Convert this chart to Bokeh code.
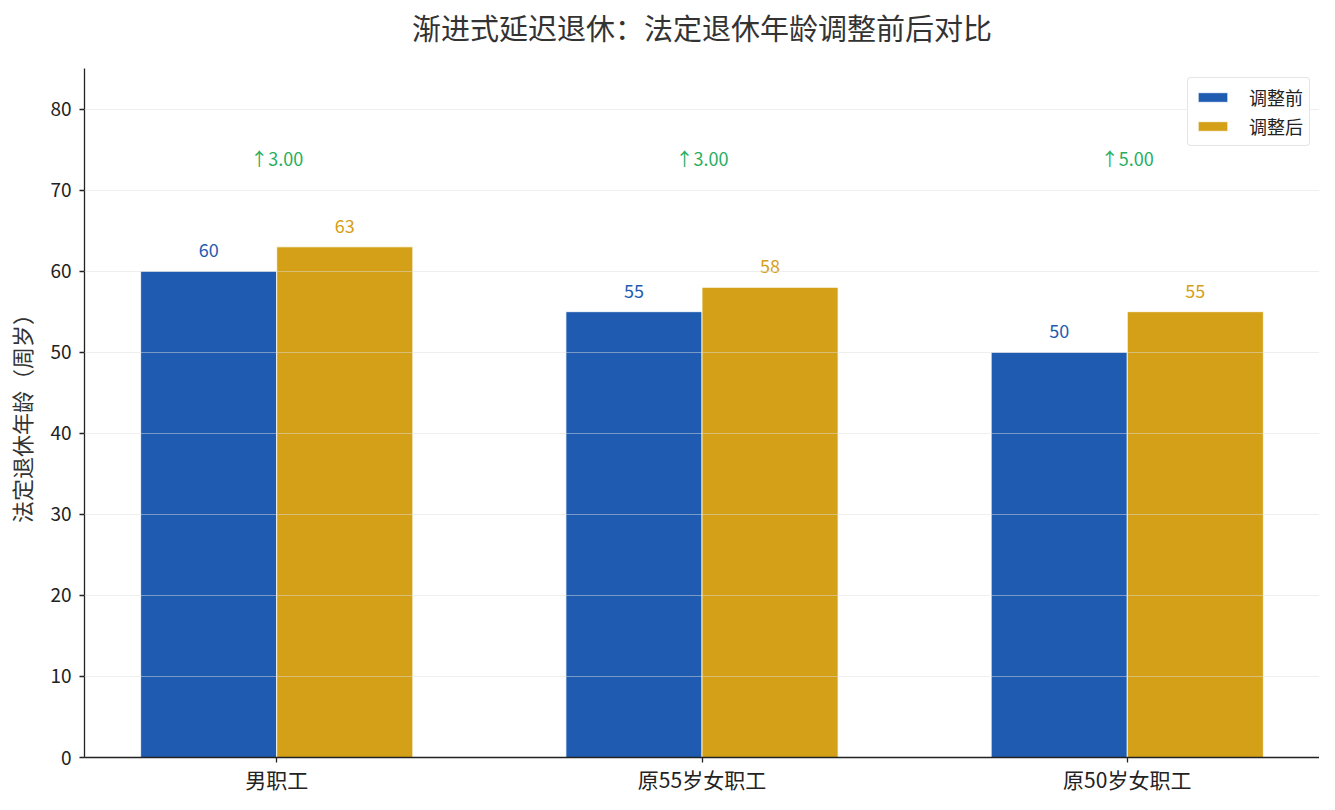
from bokeh.plotting import figure
from bokeh.models import Range1d, FixedTicker, ColumnDataSource, Legend, LegendItem, Label
from bokeh.core.properties import value
from bokeh.embed import file_html
from bokeh.resources import INLINE

title_text = "渐进式延迟退休：法定退休年龄调整前后对比"
y_label = "法定退休年龄（周岁）"
categories = ["男职工", "原55岁女职工", "原50岁女职工"]
before = [60, 55, 50]
after = [63, 58, 55]
diff_labels = ["↑3.00", "↑3.00", "↑5.00"]
diff_y = [74, 74, 74]
series_names = ["调整前", "调整后"]
y_ticks = [0, 10, 20, 30, 40, 50, 60, 70, 80]

BLUE = "#1f5cb1"
GOLD = "#d4a017"
GREEN = "#27ae60"
FONT = "Noto Sans CJK SC"

FW, FH = 1235, 689

idx = list(range(len(categories)))
bw = 0.32
src_b = ColumnDataSource(dict(x=[i - bw / 2 for i in idx], top=before, lab=[str(v) for v in before],
                              ly=[v + 2.6 for v in before]))
src_a = ColumnDataSource(dict(x=[i + bw / 2 for i in idx], top=after, lab=[str(v) for v in after],
                              ly=[v + 2.6 for v in after]))
src_d = ColumnDataSource(dict(x=idx, y=diff_y, lab=diff_labels))

p = figure(frame_width=FW, frame_height=FH, output_backend="svg", toolbar_location=None,
           x_range=Range1d(-0.452, 2.452), y_range=Range1d(0, 85),
           min_border_left=84, min_border_right=0, min_border_top=68, min_border_bottom=36)

rb = p.vbar(x="x", top="top", width=bw, source=src_b, fill_color=BLUE, line_color="white", line_width=0.8)
ra = p.vbar(x="x", top="top", width=bw, source=src_a, fill_color=GOLD, line_color="white", line_width=0.8)

p.text(x="x", y="ly", text="lab", source=src_b, text_align="center", text_baseline="alphabetic",
       text_font=value(FONT), text_font_size="18px", text_color=BLUE)
p.text(x="x", y="ly", text="lab", source=src_a, text_align="center", text_baseline="alphabetic",
       text_font=value(FONT), text_font_size="18px", text_color=GOLD)
p.text(x="x", y="y", text="lab", source=src_d, text_align="center", text_baseline="middle",
       text_font=value(FONT), text_font_size="18px", text_color=GREEN)

title = Label(x=FW / 2, y=42, x_units="screen", y_units="screen", text=title_text,
              text_align="center", text_baseline="middle", text_font=FONT,
              text_font_size="29px", text_color="#333333")
p.add_layout(title, "above")

legend = Legend(items=[LegendItem(label=series_names[0], renderers=[rb]),
                       LegendItem(label=series_names[1], renderers=[ra])],
                location="top_right")
legend.label_text_font = FONT
legend.label_text_font_size = "18px"
legend.label_text_color = "#222222"
legend.label_height = 21
legend.glyph_width = 37
legend.glyph_height = 12
legend.label_standoff = 18
legend.spacing = 3
legend.padding = 6
legend.margin = 9
legend.border_line_color = "#cccccc"
legend.border_line_width = 1.2
legend.border_radius = 4
legend.background_fill_alpha = 0.9
p.add_layout(legend)

p.xaxis.ticker = FixedTicker(ticks=idx)
p.xaxis.major_label_overrides = {i: c for i, c in zip(idx, categories)}
p.yaxis.ticker = FixedTicker(ticks=y_ticks)
p.yaxis.axis_label = y_label
p.yaxis.axis_label_text_font = FONT
p.yaxis.axis_label_text_font_size = "22px"
p.yaxis.axis_label_text_font_style = "normal"
p.yaxis.axis_label_text_color = "#333333"
p.yaxis.axis_label_standoff = 10
for ax in (p.xaxis, p.yaxis):
    ax.major_label_text_font = FONT
    ax.major_label_text_color = "#222222"
    ax.axis_line_color = "#222222"
    ax.axis_line_width = 1.3
    ax.major_tick_line_color = "#222222"
    ax.major_tick_line_width = 1.3
    ax.major_tick_out = 5
    ax.major_tick_in = 0
    ax.minor_tick_line_color = None
p.xaxis.major_label_text_font_size = "21px"
p.yaxis.major_label_text_font_size = "19px"
p.xaxis.major_label_standoff = 1
p.yaxis.major_label_standoff = 8

p.xgrid.grid_line_color = None
p.ygrid.grid_line_color = "#dddddd"
p.ygrid.grid_line_alpha = 0.6
p.ygrid.grid_line_width = 0.8
p.ygrid.level = "guide"
p.outline_line_color = None

open("out.html", "w").write(file_html(p, INLINE))
